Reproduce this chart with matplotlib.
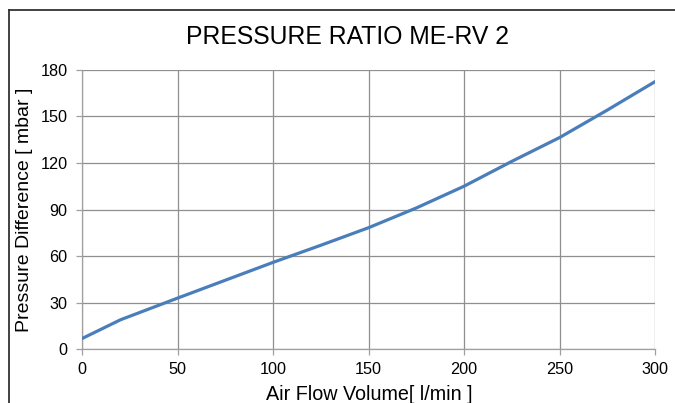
import matplotlib
matplotlib.use("Agg")
import matplotlib.pyplot as plt
from matplotlib.lines import Line2D

plt.rcParams['font.family'] = ['Liberation Sans', 'DejaVu Sans']

# Data
flow = [0, 20, 50, 75, 100, 125, 150, 175, 200, 225, 250, 275, 300]
pressure = [7, 19, 33, 44.5, 56, 67, 78.3, 91, 105, 121, 136.3, 154, 172.3]

x_ticks = [0, 50, 100, 150, 200, 250, 300]
y_ticks = [0, 30, 60, 90, 120, 150, 180]

title = "PRESSURE RATIO ME-RV 2"
xlabel = "Air Flow Volume[ l/min ]"
ylabel = "Pressure Difference [ mbar ]"

W, H = 675, 403
fig = plt.figure(figsize=(W / 100, H / 100), dpi=100)
fig.patch.set_facecolor('white')

ax_l, ax_r, ax_t, ax_b = 82.3, 655.0, 69.7, 349.3
ax = fig.add_axes([ax_l / W, 1 - ax_b / H, (ax_r - ax_l) / W, (ax_b - ax_t) / H])

ax.plot(flow, pressure, color='#4a7ebb', lw=2.3, solid_capstyle='round', zorder=3)

ax.set_xlim(0, 300)
ax.set_ylim(0, 180)
ax.set_xticks(x_ticks)
ax.set_yticks(y_ticks)

grid_c = '#8f8f8f'
ax.grid(True, color=grid_c, lw=0.9)
ax.set_axisbelow(True)
for s in ['top', 'right']:
    ax.spines[s].set_visible(False)
for s in ['left', 'bottom']:
    ax.spines[s].set_color('#a0a0a0')
    ax.spines[s].set_linewidth(0.9)

ax.tick_params(axis='both', direction='out', length=4, width=0.9, color='#a0a0a0',
               labelsize=11.7, labelcolor='black')
ax.tick_params(axis='x', pad=5)
ax.tick_params(axis='y', pad=6.5)

ax.set_xlabel(xlabel, fontsize=14.2, va='baseline')
ax.xaxis.set_label_coords(0.5006, (ax_b - 400) / (ax_b - ax_t))
ax.set_ylabel(ylabel, fontsize=14, va='center')
ax.yaxis.set_label_coords((25 - ax_l) / (ax_r - ax_l), 0.5)

fig.text(348 / W, 1 - 44.3 / H, title, fontsize=17.8, ha='center', va='baseline')

# outer frame (top and left visible)
fig.add_artist(Line2D([8.5 / W, 1.0], [1 - 10 / H, 1 - 10 / H], transform=fig.transFigure,
                      color='#333333', lw=1.3))
fig.add_artist(Line2D([8.5 / W, 8.5 / W], [1 - 10 / H, 0.0], transform=fig.transFigure,
                      color='#333333', lw=1.3))

fig.savefig('out.png', dpi=100)
